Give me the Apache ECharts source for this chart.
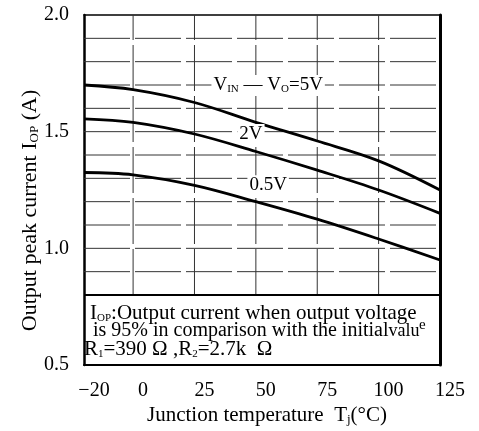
<!DOCTYPE html>
<html>
<head>
<meta charset="utf-8">
<script src="https://cdn.jsdelivr.net/npm/echarts@6/dist/echarts.min.js"></script>
<style>
  html, body { margin: 0; padding: 0; background: #fff; }
  #chart { width: 479px; height: 431px; }
</style>
</head>
<body>
<div id="chart"></div>
<script>
// Junction temperature Tj (°C)
const temps = [-20, 0, 25, 50, 75, 100, 125];
// Output peak current IOP (A) for each VIN - VO differential
const iop5V  = [1.70, 1.68, 1.625, 1.54, 1.46, 1.375, 1.25];
const iop2V  = [1.555, 1.54, 1.49, 1.415, 1.335, 1.25, 1.15];
const iop05V = [1.325, 1.315, 1.27, 1.20, 1.125, 1.04, 0.95];

// Axis tick labels
const xTickLabels = [-20, 0, 25, 50, 75, 100, 125];
const yTickLabels = [0.5, 1.0, 1.5, 2.0];

// Grid lines (the lower band is kept clear for the note)
const xGridLines = [0, 25, 50, 75, 100];
const yGridLines = [0.8, 0.9, 1.0, 1.1, 1.2, 1.3, 1.4, 1.5, 1.6, 1.7, 1.8, 1.9];

const SERIF = '"Liberation Serif", "DejaVu Serif", serif';
const X_MIN = -20, X_MAX = 125, Y_MIN = 0.5, Y_MAX = 2.0, GRID_FLOOR = 0.8;

const pairs = vals => temps.map((t, i) => [t, vals[i]]);

const gridStyle = { color: '#333', width: 1, type: [46, 5] };

function gridSeries(points, style) {
  return {
    type: 'line',
    data: points,
    symbol: 'none',
    silent: true,
    z: 1,
    lineStyle: style
  };
}

const gridSeriesList = [];
xGridLines.forEach(x => gridSeriesList.push(
  gridSeries([[x, GRID_FLOOR], [x, Y_MAX]], gridStyle)));
yGridLines.forEach(y => gridSeriesList.push(
  gridSeries([[X_MIN, y], [X_MAX, y]],
    y === GRID_FLOOR ? { color: '#000', width: 2, type: 'solid' } : gridStyle)));

const labelRich = {
  v: { fontFamily: SERIF, fontSize: 19, color: '#000', lineHeight: 20 },
  s: { fontFamily: SERIF, fontSize: 11, color: '#000', lineHeight: 12, verticalAlign: 'bottom' }
};

function curveLabel(coord, text) {
  return {
    coord: coord,
    symbol: 'rect',
    symbolSize: 1,
    itemStyle: { color: 'rgba(0,0,0,0)' },
    label: {
      show: true,
      position: 'inside',
      formatter: text,
      backgroundColor: '#fff',
      padding: [0, 2],
      rich: labelRich
    }
  };
}

function curveSeries(name, vals, labelCoord, labelText) {
  return {
    name: name,
    type: 'line',
    data: pairs(vals),
    smooth: 0.35,
    symbol: 'none',
    z: 3,
    lineStyle: { color: '#000', width: 2.8 },
    markPoint: { silent: true, animation: false, data: [curveLabel(labelCoord, labelText)] }
  };
}

const noteRich = {
  a: { fontFamily: SERIF, fontSize: 21, color: '#000', lineHeight: 20 },
  b: { fontFamily: SERIF, fontSize: 20, color: '#000', lineHeight: 20 },
  c: { fontFamily: SERIF, fontSize: 18, color: '#000', lineHeight: 20 },
  s: { fontFamily: SERIF, fontSize: 11, color: '#000', lineHeight: 12, verticalAlign: 'bottom' }
};

const chart = echarts.init(document.getElementById('chart'), null, { renderer: 'canvas' });
chart.setOption({
  animation: false,
  backgroundColor: '#fff',
  grid: { left: 84, right: 39, top: 15, bottom: 65 },
  xAxis: [{
    type: 'value', min: X_MIN, max: X_MAX, interval: 5,
    axisLine: { onZero: false, lineStyle: { color: '#000', width: 2 } },
    axisTick: { show: false },
    splitLine: { show: false },
    axisLabel: {
      margin: 16,
      color: '#000', fontFamily: SERIF, fontSize: 20,
      padding: [0, 0, 0, 20],
      formatter: v => xTickLabels.includes(v) ? (v < 0 ? '\u2212' + Math.abs(v) : String(v)) : ''
    },
    name: '{a|Junction temperature  T}{s|j}{a|(°C)}',
    nameLocation: 'middle',
    nameGap: 39,
    nameMoveOverlap: false,
    nameTextStyle: {
      padding: [0, 0, 0, 10],
      rich: {
        a: { fontFamily: SERIF, fontSize: 21, color: '#000', lineHeight: 22 },
        s: { fontFamily: SERIF, fontSize: 13, color: '#000', lineHeight: 14, verticalAlign: 'bottom' }
      }
    }
  }, {
    type: 'value', position: 'top', min: X_MIN, max: X_MAX,
    axisLine: { show: true, onZero: false, lineStyle: { color: '#000', width: 1.5 } },
    axisTick: { show: false }, axisLabel: { show: false }, splitLine: { show: false }
  }],
  yAxis: [{
    type: 'value', min: Y_MIN, max: Y_MAX, interval: 0.5,
    axisLine: { show: true, onZero: false, lineStyle: { color: '#000', width: 2.5 } },
    axisTick: { show: false },
    splitLine: { show: false },
    axisLabel: {
      margin: 15,
      color: '#000', fontFamily: SERIF, fontSize: 20,
      formatter: v => yTickLabels.some(t => Math.abs(t - v) < 1e-9) ? v.toFixed(1) : ''
    },
    name: '{a|Output peak current I}{s|OP}{a| (A)}',
    nameLocation: 'middle',
    nameRotate: 90,
    nameGap: 43,
    nameMoveOverlap: false,
    nameTextStyle: {
      padding: [0, 41, 0, 0],
      rich: {
        a: { fontFamily: SERIF, fontSize: 22, color: '#000', lineHeight: 22 },
        s: { fontFamily: SERIF, fontSize: 13, color: '#000', lineHeight: 14, verticalAlign: 'bottom' }
      }
    }
  }, {
    type: 'value', position: 'right', min: Y_MIN, max: Y_MAX,
    axisLine: { show: true, onZero: false, lineStyle: { color: '#000', width: 3 } },
    axisTick: { show: false }, axisLabel: { show: false }, splitLine: { show: false }
  }],
  series: gridSeriesList.concat([
    curveSeries('5V', iop5V, [55, 1.70], '{v|V}{s|IN}{v| \u2014 V}{s|O}{v|=5V}'),
    curveSeries('2V', iop2V, [48, 1.49], '{v|2V}'),
    curveSeries('0.5V', iop05V, [55, 1.27], '{v|0.5V}')
  ]),
  graphic: [
    { type: 'text', left: 90, top: 303, z: 10,
      style: { text: '{a|I}{s|OP}{a|:Output current when output voltage}', rich: noteRich } },
    { type: 'text', left: 93, top: 321, z: 10,
      style: { text: '{b|is 95% in comparison with the initial}{c|valu}', rich: noteRich } },
    { type: 'text', left: 419, top: 318, z: 10,
      style: { text: 'e', font: '15px ' + SERIF, fill: '#000' } },
    { type: 'text', left: 84, top: 339, z: 10,
      style: { text: '{a|R}{s|1}{a|=390 \u03a9 ,R}{s|2}{a|=2.7k  \u03a9}', rich: noteRich } }
  ]
});
</script>
</body>
</html>
